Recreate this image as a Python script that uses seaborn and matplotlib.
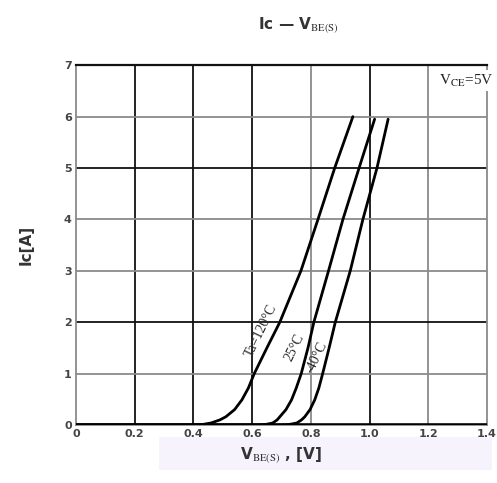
import matplotlib
matplotlib.use("Agg")
import matplotlib.pyplot as plt
import seaborn as sns
import pandas as pd

# Ic vs VBE(S) at VCE=5V
v_120 = [0.0, 0.40, 0.43, 0.46, 0.49, 0.51, 0.54, 0.565, 0.587, 0.607, 0.65, 0.694, 0.766, 0.824, 0.881, 0.943]
i_120 = [0.0, 0.0, 0.01, 0.04, 0.1, 0.16, 0.3, 0.49, 0.72, 1.0, 1.5, 2.0, 3.0, 4.0, 5.0, 6.0]
v_25 = [0.0, 0.62, 0.645, 0.67, 0.685, 0.694, 0.715, 0.734, 0.75, 0.767, 0.79, 0.81, 0.86, 0.909, 0.964, 1.017]
i_25 = [0.0, 0.0, 0.01, 0.04, 0.1, 0.16, 0.3, 0.49, 0.72, 1.0, 1.5, 2.0, 3.0, 4.0, 5.0, 5.95]
v_m40 = [0.0, 0.70, 0.725, 0.752, 0.768, 0.779, 0.797, 0.813, 0.827, 0.84, 0.862, 0.883, 0.934, 0.977, 1.025, 1.063]
i_m40 = [0.0, 0.0, 0.01, 0.04, 0.1, 0.16, 0.3, 0.49, 0.72, 1.0, 1.5, 2.0, 3.0, 4.0, 5.0, 5.95]

curve_names = ["Ta=120°C", "25°C", "-40°C"]
label_pos = [(0.632, 1.83), (0.745, 1.5), (0.82, 1.32)]

x_ticks = [0, 0.2, 0.4, 0.6, 0.8, 1.0, 1.2, 1.4]
x_labels = ["0", "0.2", "0.4", "0.6", "0.8", "1.0", "1.2", "1.4"]
y_ticks = [0, 1, 2, 3, 4, 5, 6, 7]

frames = []
for name, v, i in zip(curve_names, [v_120, v_25, v_m40], [i_120, i_25, i_m40]):
    frames.append(pd.DataFrame({"vbe": v, "ic": i, "temp": name}))
df = pd.concat(frames, ignore_index=True)

sns.set_style("white")
plt.rcParams["mathtext.fontset"] = "stix"

fig = plt.figure(figsize=(4.97, 4.83), dpi=100)
ax = fig.add_axes([0.153, 0.12, 0.827, 0.745])

# faint scan band under the x axis
band = plt.Rectangle((0.32, 0.027), 0.67, 0.068, transform=fig.transFigure,
                     facecolor="#f6f3fd", edgecolor="none", zorder=-5)
fig.patches.append(band)

# grid, mix of dark and grey lines like the scan
dark_v = [0.2, 0.4, 0.6, 1.0]
for x in x_ticks[1:-1]:
    ax.axvline(x, color="#111111" if x in dark_v else "#8a8a8a", lw=1.3, zorder=1)
dark_h = [2, 5]
for y in y_ticks[1:-1]:
    ax.axhline(y, color="#111111" if y in dark_h else "#8a8a8a", lw=1.3, zorder=1)

sns.lineplot(data=df, x="vbe", y="ic", units="temp", estimator=None, sort=False,
             color="black", lw=2.0, ax=ax, zorder=3)
ax.axhline(0, color="black", lw=2.6, zorder=4)

for name, (x, y) in zip(curve_names, label_pos):
    ax.text(x, y, name, rotation=64, ha="center", va="center", fontsize=10,
            family="Liberation Serif", zorder=5)

ax.text(1.33, 6.7, r"$\mathrm{V_{CE}}$=5V", ha="center", va="center", fontsize=11,
        family="Liberation Serif", zorder=5,
        bbox=dict(facecolor="white", edgecolor="none", pad=1.5))

ax.set_xlim(0, 1.4)
ax.set_ylim(0, 7)
ax.set_xticks(x_ticks)
ax.set_xticklabels(x_labels)
ax.set_yticks(y_ticks)
ax.tick_params(length=0, labelsize=8, labelcolor="#444444", pad=3)
for lab in ax.get_xticklabels() + ax.get_yticklabels():
    lab.set_fontweight("bold")

for side in ["left", "right", "bottom"]:
    ax.spines[side].set_color("#8a8a8a")
    ax.spines[side].set_linewidth(1.3)
ax.spines["top"].set_color("#111111")
ax.spines["top"].set_linewidth(1.6)

ax.set_xlabel(r"V$_{\mathrm{BE(S)}}$ , [V]", fontsize=11, fontweight="bold", color="#333333")
ax.set_ylabel("Ic[A]", fontsize=11, fontweight="bold", color="#333333", labelpad=22)

fig.text(0.6, 0.948, r"Ic — V$_{\mathrm{BE(S)}}$", ha="center", va="center",
         fontsize=11, fontweight="bold", color="#333333")

fig.savefig("out.png", dpi=100)
